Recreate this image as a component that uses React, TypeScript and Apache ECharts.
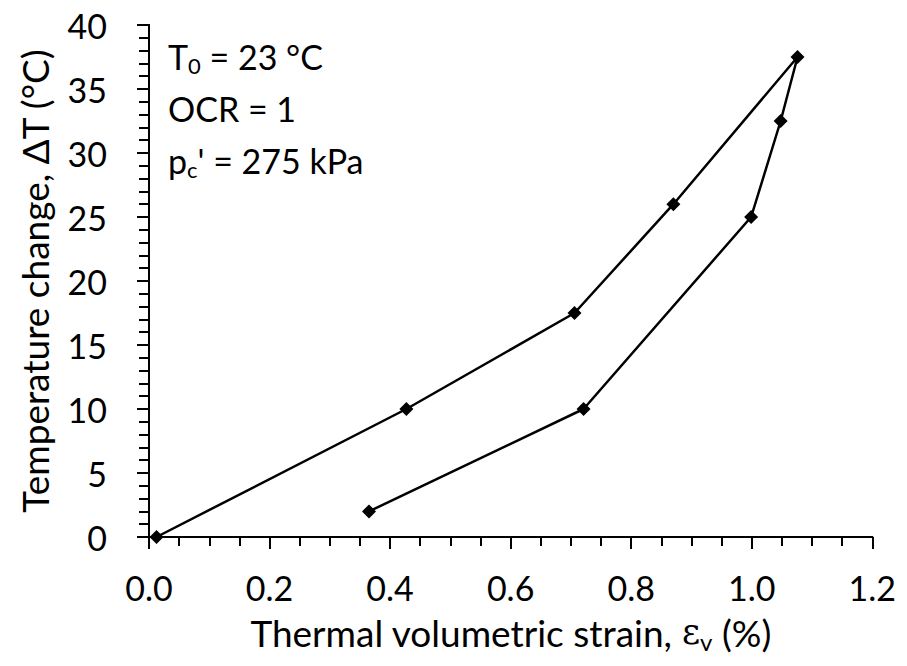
import React, { useEffect, useRef } from "react";
import * as echarts from "echarts";

const strain = [0.0125, 0.427, 0.706, 0.87, 1.076, 1.048, 0.999, 0.721, 0.365];
const deltaT = [0, 10, 17.5, 26, 37.5, 32.5, 25, 10, 2];

const FONT = "Lato";

export default function App() {
  const ref = useRef<HTMLDivElement>(null);
  useEffect(() => {
    const chart = echarts.init(ref.current!, null, { renderer: "svg" });
    const axisLine = { show: true, lineStyle: { color: "#000", width: 2 } };
    const label = { color: "#000", fontSize: 34, fontFamily: FONT };
    const title = { color: "#000", fontSize: 37, fontFamily: FONT };
    chart.setOption({
      animation: false,
      backgroundColor: "#fff",
      grid: { left: 136, top: 12, right: 21, bottom: 117 },
      xAxis: [
        {
          type: "value",
          min: 0,
          max: 1.2,
          interval: 0.2,
          axisLine,
          axisTick: { show: true, inside: false, length: 12, lineStyle: { color: "#000", width: 2 } },
          minorTick: { show: true, splitNumber: 4, length: 9, lineStyle: { color: "#000", width: 2 } },
          splitLine: { show: false },
          axisLabel: { ...label, margin: 33, formatter: (v: number) => v.toFixed(1) },
          name: "Thermal volumetric strain, {e|ε}{sub|v} (%)",
          nameLocation: "middle",
          nameGap: 74,
          nameTextStyle: {
            ...title,
            rich: {
              e: { fontSize: 35, fontFamily: "DejaVu Serif", color: "#000" },
              sub: { fontSize: 24, fontFamily: FONT, color: "#000", padding: [18, 0, 0, 0] },
            },
          },
        },
        {
          type: "value",
          position: "top",
          min: 0,
          max: 1.2,
          axisLine,
          axisTick: { show: false },
          axisLabel: { show: false },
          splitLine: { show: false },
        },
      ],
      yAxis: [
        {
          type: "value",
          min: 0,
          max: 40,
          interval: 5,
          axisLine,
          axisTick: { show: true, inside: false, length: 12, lineStyle: { color: "#000", width: 2 } },
          minorTick: { show: true, splitNumber: 5, length: 10, lineStyle: { color: "#000", width: 2 } },
          splitLine: { show: false },
          axisLabel: { ...label, margin: 42 },
          name: "Temperature change, ΔT (°C)",
          nameLocation: "middle",
          nameGap: 96,
          nameTextStyle: { ...title },
        },
        {
          type: "value",
          position: "right",
          min: 0,
          max: 40,
          axisLine,
          axisTick: { show: false },
          axisLabel: { show: false },
          splitLine: { show: false },
        },
      ],
      series: [
        {
          type: "line",
          data: strain.map((x, i) => [x, deltaT[i]]),
          symbol: "diamond",
          symbolSize: 14,
          itemStyle: { color: "#000" },
          lineStyle: { color: "#000", width: 2.5 },
        },
      ],
      graphic: [
        {
          type: "text",
          left: 160,
          top: 22,
          style: {
            text: "{n|T}{s|0}{n| = 23 °C}\n{n|OCR = 1}\n{n|p}{s|c}{n|' = 275 kPa}",
            lineHeight: 52,
            rich: {
              n: { fontSize: 34, fontFamily: FONT, fill: "#000", lineHeight: 52 },
              s: { fontSize: 22, fontFamily: FONT, fill: "#000", lineHeight: 52, padding: [18, 0, 0, 0] },
            },
          },
        },
      ],
    });
    return () => chart.dispose();
  }, []);
  return <div ref={ref} style={{ width: 891, height: 650 }} />;
}
